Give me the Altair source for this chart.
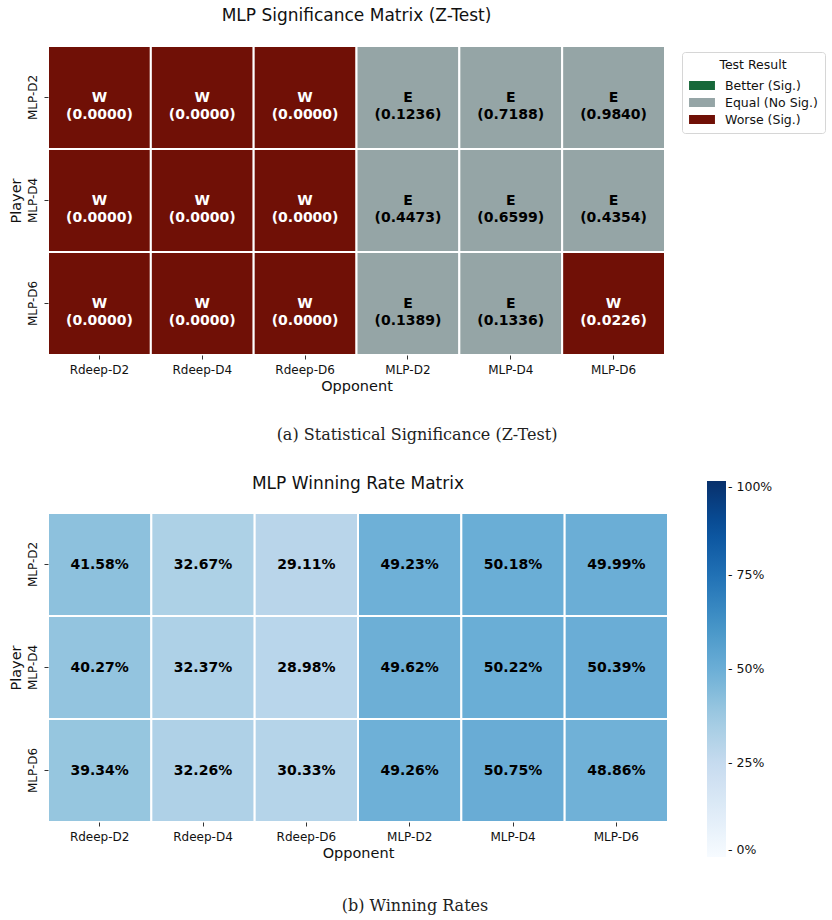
import altair as alt
import pandas as pd

# ---- data -------------------------------------------------------------
players = ["MLP-D2", "MLP-D4", "MLP-D6"]
opponents = ["Rdeep-D2", "Rdeep-D4", "Rdeep-D6", "MLP-D2", "MLP-D4", "MLP-D6"]

# Z-test outcome per (player, opponent): W = worse, E = equal, B = better
test_codes = [
    ["W", "W", "W", "E", "E", "E"],
    ["W", "W", "W", "E", "E", "E"],
    ["W", "W", "W", "E", "E", "W"],
]
p_values = [
    [0.0000, 0.0000, 0.0000, 0.1236, 0.7188, 0.9840],
    [0.0000, 0.0000, 0.0000, 0.4473, 0.6599, 0.4354],
    [0.0000, 0.0000, 0.0000, 0.1389, 0.1336, 0.0226],
]
# winning rate in percent
win_rates = [
    [41.58, 32.67, 29.11, 49.23, 50.18, 49.99],
    [40.27, 32.37, 28.98, 49.62, 50.22, 50.39],
    [39.34, 32.26, 30.33, 49.26, 50.75, 48.86],
]

result_names = {"B": "Better (Sig.)", "E": "Equal (No Sig.)", "W": "Worse (Sig.)"}
result_order = ["Better (Sig.)", "Equal (No Sig.)", "Worse (Sig.)"]
result_colors = ["#17683a", "#95a5a6", "#701006"]

# matplotlib "Blues" anchor colours
blues = ["#f7fbff", "#deebf7", "#c6dbef", "#9ecae1", "#6baed6",
         "#4292c6", "#2171b5", "#08519c", "#08306b"]
blues_stops = [0, 12.5, 25, 37.5, 50, 62.5, 75, 87.5, 100]

rows = []
for i, pl in enumerate(players):
    for j, op in enumerate(opponents):
        code = test_codes[i][j]
        rows.append({
            "Player": pl,
            "Opponent": op,
            "Result": result_names[code],
            "Label": f"{code}\n({p_values[i][j]:.4f})",
            "Rate": win_rates[i][j],
            "RateLabel": f"{win_rates[i][j]:.2f}%",
        })
df = pd.DataFrame(rows)

FONT = "DejaVu Sans"


def axes():
    x_axis = alt.Axis(labelAngle=0, labelFontSize=12, titleFontSize=14.5,
                      titleFontWeight="normal", tickSize=4, domain=False,
                      labelPadding=5, titlePadding=4, labelColor="#111",
                      titleColor="#111", tickColor="#333")
    y_axis = alt.Axis(labelAngle=-90, labelFontSize=12, titleFontSize=14.5,
                      titleFontWeight="normal", tickSize=4, domain=False,
                      labelPadding=5, titlePadding=3, labelColor="#111",
                      titleColor="#111", tickColor="#333",
                      labelAlign="center", labelBaseline="bottom")
    return (alt.X("Opponent:N", sort=opponents, title="Opponent", axis=x_axis),
            alt.Y("Player:N", sort=players, title="Player", axis=y_axis))


# ---- (a) significance matrix -----------------------------------------
Xa, Ya = axes()
sig_rect = alt.Chart(df).mark_rect(stroke="white", strokeWidth=2).encode(
    x=Xa, y=Ya,
    color=alt.Color(
        "Result:N",
        scale=alt.Scale(domain=result_order, range=result_colors),
        legend=alt.Legend(
            title="Test Result", orient="none", legendX=634, legendY=6,
            direction="vertical",
            titleFontSize=12.5, titleFontWeight="normal", titleAnchor="middle",
            titleColor="#111", titlePadding=5,
            labelFontSize=12.5, labelColor="#111", labelOffset=14,
            symbolType="M-1.44,-0.5H1.44V0.5H-1.44Z", symbolSize=324,
            symbolOffset=4, symbolStrokeWidth=0, symbolOpacity=1, rowPadding=1,
            strokeColor="#d6d6d6", fillColor="white", cornerRadius=3,
            padding=7,
        ),
    ),
)
sig_text = alt.Chart(df).mark_text(
    font=FONT, fontSize=14, fontWeight="bold", lineBreak="\n", lineHeight=17
).encode(
    x=Xa, y=Ya, text="Label:N",
    color=alt.condition(alt.datum.Result == "Equal (No Sig.)",
                        alt.value("black"), alt.value("white")),
)
cap_a = alt.Chart(pd.DataFrame({"c": ["(a) Statistical Significance (Z-Test)"]})).mark_text(
    font="DejaVu Serif", fontSize=16, color="#222"
).encode(text="c:N", x=alt.value(369), y=alt.value(389))

sig_chart = alt.layer(sig_rect, sig_text, cap_a).properties(
    width=617, height=309,
    title=alt.TitleParams("MLP Significance Matrix (Z-Test)", fontSize=17,
                          fontWeight="normal", font=FONT, color="#111",
                          offset=20),
)

# ---- (b) winning rate matrix ------------------------------------------
Xb, Yb = axes()
win_rect = alt.Chart(df).mark_rect(stroke="white", strokeWidth=2).encode(
    x=Xb, y=Yb,
    color=alt.Color(
        "Rate:Q",
        scale=alt.Scale(domain=blues_stops, range=blues, interpolate="rgb"),
        legend=alt.Legend(
            title=None, orient="none", legendX=659, legendY=-32,
            direction="vertical", gradientLength=376, gradientThickness=19,
            values=[0, 25, 50, 75, 100], labelExpr="'- ' + datum.value + '%'",
            labelFontSize=12.5, labelColor="#111", labelOffset=2,
            labelBaseline="middle", labelOverlap=False, gradientStrokeWidth=0,
        ),
    ),
)
win_text = alt.Chart(df).mark_text(
    font=FONT, fontSize=14, fontWeight="bold", color="black"
).encode(x=Xb, y=Yb, text="RateLabel:N")
cap_b = alt.Chart(pd.DataFrame({"c": ["(b) Winning Rates"]})).mark_text(
    font="DejaVu Serif", fontSize=16, color="#222"
).encode(text="c:N", x=alt.value(367), y=alt.value(393))

win_chart = alt.layer(win_rect, win_text, cap_b).properties(
    width=620, height=309,
    title=alt.TitleParams("MLP Winning Rate Matrix", fontSize=17,
                          fontWeight="normal", font=FONT, color="#111",
                          offset=-12),
)

chart = alt.vconcat(sig_chart, win_chart, spacing=30).resolve_scale(
    color="independent"
).properties(
    padding={"left": 7, "top": 6, "right": 4, "bottom": 4}
).configure_view(stroke=None).configure(font=FONT)

chart.save("out.html", embed_options={"renderer": "svg", "actions": False})
